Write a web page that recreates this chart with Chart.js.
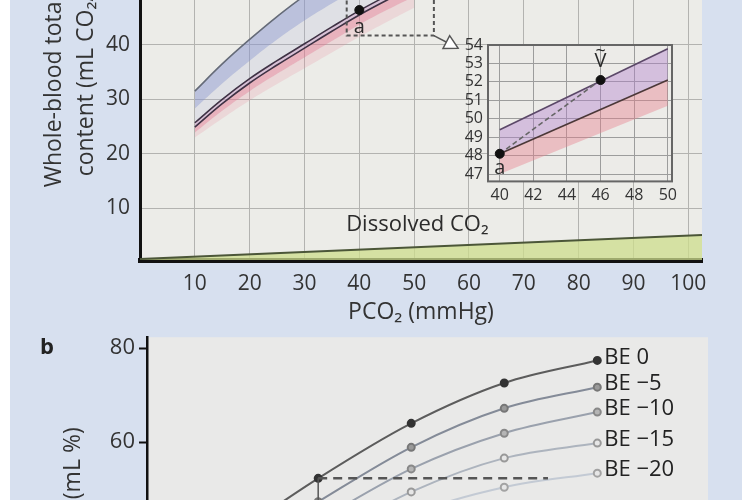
<!DOCTYPE html>
<html>
<head>
<meta charset="utf-8">
<script src="https://cdn.jsdelivr.net/npm/chart.js@4.4.1/dist/chart.umd.min.js"></script>
<style>
  html, body { margin: 0; padding: 0; width: 750px; height: 500px; overflow: hidden; background: #fff; }
  #page { position: absolute; left: 10px; top: 0; width: 732px; height: 500px; background: #d7e0ef; }
  .box { position: absolute; }
  #mainBox { left: 0; top: -146px; width: 750px; height: 476px; }
  #insetBox { left: 440px; top: 30px; width: 250px; height: 180px; }
  #beBox { left: 0; top: 320px; width: 750px; height: 427px; }
  #panelB { position: absolute; left: 40px; top: 330px; font: bold 22px "Open Sans", sans-serif; color: #222; }
</style>
</head>
<body>
<div id="page"></div>
<div class="box" id="mainBox"><canvas id="mainChart"></canvas></div>
<div class="box" id="insetBox"><canvas id="insetChart"></canvas></div>
<div class="box" id="beBox"><canvas id="beChart"></canvas></div>
<div id="panelB">b</div>
<script>
// ---- panel a: whole-blood CO2 dissociation curves ----
const pco2 = [10, 15, 20, 25, 30, 35, 40, 45, 50];
const upperCurve = [31.5, 36.5, 41.0, 45.2, 49.0, 52.2, 55.0, 57.5, 59.7];
const blueEdge = [28.3, 32.9, 37.1, 41.0, 44.5, 47.6, 50.5, 53.1, 55.5];
const lowerTop = [25.7, 30.0, 33.8, 37.1, 40.2, 43.3, 46.3, 49.0, 51.5];
const lowerBottom = [24.9, 29.2, 33.0, 36.3, 39.4, 42.5, 45.5, 48.2, 50.7];
const pinkEdge = [23.9, 27.9, 31.5, 34.7, 37.7, 40.7, 43.7, 46.4, 48.9];
const pinkFade = [23.0, 26.5, 29.8, 32.8, 35.7, 38.6, 41.5, 44.2, 46.8];
const dissolvedX = [0, 102.5];
const dissolvedY = [0.7, 5.1];
const pointAX = [40];
const pointAY = [46.4];
const zoomBoxX = [37.7, 37.7, 53.6, 53.6];
const zoomBoxY = [52, 41.7, 41.7, 52];
const mainXTicks = [10, 20, 30, 40, 50, 60, 70, 80, 90, 100];
const mainYTicks = [10, 20, 30, 40, 50, 60, 70];

// ---- inset: a -> v ----
const insetX = [40, 50];
const insetUpper = [49.4, 53.8];
const insetLower = [48.1, 52.1];
const insetPink = [47.0, 50.7];
const avX = [40, 46];
const avY = [48.1, 52.1];
const insetXTicks = [40, 42, 44, 46, 48, 50];
const insetYTicks = [47, 48, 49, 50, 51, 52, 53, 54];

// ---- panel b: base excess curves ----
const bePco2 = [20, 40, 60, 80, 100];
const be0 = [39.0, 52.3, 64.0, 72.6, 77.4];
const beMinus5 = [35.0, 47.3, 58.9, 67.2, 71.7];
const beMinus10 = [31.0, 43.2, 54.3, 61.9, 66.4];
const beMinus15 = [27.0, 38.8, 49.4, 56.6, 59.8];
const beMinus20 = [23.0, 34.6, 44.6, 50.4, 53.4];
const beLabels = ['BE 0', 'BE \u22125', 'BE \u221210', 'BE \u221215', 'BE \u221220'];
const refLineX = [40, 89.4];
const refLineY = [52.3, 52.3];
const dropX = [40, 40];
const dropY = [52.3, 44];
const beYTicks = [20, 40, 60, 80];

Chart.defaults.font.family = '"Open Sans", "Noto Sans", "DejaVu Sans", sans-serif';
Chart.defaults.animation = false;
Chart.defaults.plugins.legend.display = false;
Chart.defaults.plugins.tooltip.enabled = false;

function xy(xs, ys) {
    return xs.map((x, i) => ({ x: x, y: ys[i] }));
}

function plotBg(color) {
    return {
        id: 'plotBg',
        beforeDraw(chart) {
            const a = chart.chartArea;
            chart.ctx.save();
            chart.ctx.fillStyle = color;
            chart.ctx.fillRect(a.left, a.top, a.right - a.left, a.bottom - a.top);
            chart.ctx.restore();
        }
    };
}

// notes on the main chart: dissolved label, "a", arrow to the inset
const mainNotes = {
    id: 'mainNotes',
    afterDatasetsDraw(chart) {
        const ctx = chart.ctx;
        const x = chart.scales.x, y = chart.scales.y;
        ctx.save();
        ctx.fillStyle = '#2b2b2b';
        ctx.font = '22px ' + Chart.defaults.font.family;
        ctx.textBaseline = 'middle';
        ctx.textAlign = 'left';
        ctx.fillText('Dissolved CO\u2082', x.getPixelForValue(37.6), y.getPixelForValue(7.0));

        ctx.font = '20px ' + Chart.defaults.font.family;
        ctx.textAlign = 'center';
        ctx.fillText('a', x.getPixelForValue(pointAX[0]), y.getPixelForValue(pointAY[0]) + 17);

        // open arrow pointing at the inset
        const x0 = x.getPixelForValue(53.6), y0 = y.getPixelForValue(41.7);
        const x1 = x.getPixelForValue(58.0), y1 = y.getPixelForValue(39.4);
        const ang = Math.atan2(y1 - y0, x1 - x0);
        ctx.strokeStyle = '#555';
        ctx.lineWidth = 1.5;
        ctx.beginPath();
        ctx.moveTo(x0, y0);
        ctx.lineTo(x1 - 9 * Math.cos(ang), y1 - 9 * Math.sin(ang));
        ctx.stroke();
        ctx.beginPath();
        ctx.moveTo(x1, y1);
        ctx.lineTo(x1 - 15 * Math.cos(ang - 0.5), y1 - 15 * Math.sin(ang - 0.5));
        ctx.lineTo(x1 - 15 * Math.cos(ang + 0.5), y1 - 15 * Math.sin(ang + 0.5));
        ctx.closePath();
        ctx.fillStyle = '#fff';
        ctx.fill();
        ctx.stroke();
        ctx.restore();
    }
};

new Chart(document.getElementById('mainChart'), {
    type: 'line',
    data: {
        datasets: [
            { data: xy(pointAX, pointAY), showLine: false, pointRadius: 4.5, pointBackgroundColor: '#111', pointBorderColor: '#111', order: 0 },
            { data: xy(zoomBoxX, zoomBoxY), borderColor: '#555', borderWidth: 2, borderDash: [4, 3], pointRadius: 0, fill: false, order: 1 },
            { data: xy(pco2, upperCurve), borderColor: '#656b78', borderWidth: 1.6, pointRadius: 0, tension: 0.4, fill: '+1', backgroundColor: 'rgba(138,150,208,0.5)', order: 6 },
            { data: xy(pco2, blueEdge), borderWidth: 0, borderColor: 'rgba(0,0,0,0)', pointRadius: 0, tension: 0.4, fill: '+1', backgroundColor: 'rgba(165,172,215,0.18)', order: 7 },
            { data: xy(pco2, lowerTop), borderColor: '#3f3245', borderWidth: 1.6, pointRadius: 0, tension: 0.4, fill: '+1', backgroundColor: 'rgba(195,150,195,0.5)', order: 5 },
            { data: xy(pco2, lowerBottom), borderColor: '#3f3245', borderWidth: 1.6, pointRadius: 0, tension: 0.4, fill: '+1', backgroundColor: 'rgba(228,120,145,0.5)', order: 4 },
            { data: xy(pco2, pinkEdge), borderWidth: 0, borderColor: 'rgba(0,0,0,0)', pointRadius: 0, tension: 0.4, fill: '+1', backgroundColor: 'rgba(232,140,160,0.22)', order: 8 },
            { data: xy(pco2, pinkFade), borderWidth: 0, borderColor: 'rgba(0,0,0,0)', pointRadius: 0, tension: 0.4, fill: false, order: 9 },
            { data: xy(dissolvedX, dissolvedY), borderColor: '#4b5638', borderWidth: 2, pointRadius: 0, fill: 'start', backgroundColor: 'rgba(205,222,140,0.75)', order: 10 }
        ]
    },
    options: {
        responsive: true,
        maintainAspectRatio: false,
        layout: { padding: { left: 0, top: 19, right: 48, bottom: 0 } },
        scales: {
            x: {
                type: 'linear', min: 0, max: 102.5,
                afterBuildTicks: s => { s.ticks = mainXTicks.map(v => ({ value: v })); },
                afterFit: s => { s.height = 70; },
                grid: { color: '#b3b3b0', lineWidth: 1, drawTicks: false },
                border: { color: '#111', width: 5 },
                ticks: { color: '#333', font: { size: 21 }, padding: 11, maxRotation: 0, autoSkip: false },
                title: { display: true, text: 'PCO\u2082 (mmHg)', color: '#333', font: { size: 23 }, padding: { top: 0, bottom: 4 } }
            },
            y: {
                type: 'linear', min: 0.5, max: 70.9,
                afterBuildTicks: s => { s.ticks = mainYTicks.map(v => ({ value: v })); },
                afterFit: s => { s.width = 140; },
                grid: { color: '#b3b3b0', lineWidth: 1, drawTicks: false },
                border: { color: '#111', width: 3 },
                ticks: { color: '#333', font: { size: 21 }, padding: 10, autoSkip: false },
                title: { display: true, text: ['Whole-blood total CO\u2082', 'content (mL CO\u2082/dL)'], color: '#333', font: { size: 23, lineHeight: 1.4 }, padding: { top: 38, bottom: 0 } }
            }
        }
    },
    plugins: [plotBg('#ecece8'), mainNotes]
});

// inset chart
const insetNotes = {
    id: 'insetNotes',
    afterDatasetsDraw(chart) {
        const ctx = chart.ctx;
        const x = chart.scales.x, y = chart.scales.y;
        const a = chart.chartArea;
        const vx = x.getPixelForValue(avX[1]), vy = y.getPixelForValue(avY[1]);
        ctx.save();
        ctx.fillStyle = '#2b2b2b';
        ctx.font = '20px ' + Chart.defaults.font.family;
        ctx.textAlign = 'center';
        ctx.textBaseline = 'middle';
        ctx.fillText('a', x.getPixelForValue(avX[0]), y.getPixelForValue(avY[0]) + 15);
        ctx.fillText('V', vx, vy - 19);
        ctx.font = '18px ' + Chart.defaults.font.family;
        ctx.fillText('~', vx, vy - 28);
        ctx.strokeStyle = '#666';
        ctx.lineWidth = 2;
        ctx.strokeRect(a.left, a.top, a.right - a.left, a.bottom - a.top);
        ctx.restore();
    }
};

new Chart(document.getElementById('insetChart'), {
    type: 'line',
    data: {
        datasets: [
            { data: xy(avX, avY), showLine: false, pointRadius: 4.5, pointBackgroundColor: '#111', pointBorderColor: '#111', order: 0 },
            { data: xy(avX, avY), borderColor: '#666', borderWidth: 1.6, borderDash: [5, 3], pointRadius: 0, fill: false, order: 1 },
            { data: xy(insetX, insetUpper), borderColor: '#5b4868', borderWidth: 1.6, pointRadius: 0, fill: '+1', backgroundColor: 'rgba(178,130,205,0.42)', order: 3 },
            { data: xy(insetX, insetLower), borderColor: '#4b3838', borderWidth: 1.6, pointRadius: 0, fill: '+1', backgroundColor: 'rgba(230,128,140,0.42)', order: 2 },
            { data: xy(insetX, insetPink), borderWidth: 0, borderColor: 'rgba(0,0,0,0)', pointRadius: 0, fill: false, order: 4 }
        ]
    },
    options: {
        responsive: true,
        maintainAspectRatio: false,
        layout: { padding: { left: 0, top: 15, right: 18, bottom: 0 } },
        scales: {
            x: {
                type: 'linear', min: 39.3, max: 50.25,
                afterBuildTicks: s => { s.ticks = insetXTicks.map(v => ({ value: v })); },
                afterFit: s => { s.height = 28.6; },
                grid: { color: '#9c9c9c', lineWidth: 1, drawTicks: false },
                border: { display: false },
                ticks: { color: '#333', font: { size: 16 }, padding: 4, maxRotation: 0, autoSkip: false }
            },
            y: {
                type: 'linear', min: 46.6, max: 54,
                afterBuildTicks: s => { s.ticks = insetYTicks.map(v => ({ value: v })); },
                afterFit: s => { s.width = 48; },
                grid: { color: '#9c9c9c', lineWidth: 1, drawTicks: false },
                border: { display: false },
                ticks: { color: '#333', font: { size: 16 }, padding: 5, autoSkip: false }
            }
        }
    },
    plugins: [plotBg('#ecebe8'), insetNotes]
});

// panel b
const beColors = ['#5c5c5c', '#848b98', '#9aa1ad', '#adb4be', '#c3cad4'];
const bePointFill = ['#333', '#9a9a9a', '#b5b5b5', '#e6e6e6', '#e6e6e6'];
const bePointRing = ['#333', '#777', '#888', '#999', '#a3a3a3'];
const beSeries = [be0, beMinus5, beMinus10, beMinus15, beMinus20];

const beNotes = {
    id: 'beNotes',
    afterDatasetsDraw(chart) {
        const ctx = chart.ctx;
        ctx.save();
        ctx.fillStyle = '#222';
        ctx.font = '22px ' + Chart.defaults.font.family;
        ctx.textAlign = 'left';
        ctx.textBaseline = 'middle';
        beLabels.forEach((label, i) => {
            const pts = chart.getDatasetMeta(i).data;
            const last = pts[pts.length - 1];
            ctx.fillText(label, last.x + 7, last.y - 3);
        });
        ctx.restore();
    }
};

const beDatasets = beSeries.map((vals, i) => ({
    data: xy(bePco2, vals),
    borderColor: beColors[i],
    borderWidth: 2,
    cubicInterpolationMode: 'monotone',
    pointRadius: 3.5,
    pointBorderWidth: 2,
    pointBackgroundColor: bePointFill[i],
    pointBorderColor: bePointRing[i],
    fill: false,
    order: i + 2
}));
beDatasets.push({ data: xy(refLineX, refLineY), borderColor: '#555', borderWidth: 2.5, borderDash: [9, 6], pointRadius: 0, fill: false, order: 1 });
beDatasets.push({ data: xy(dropX, dropY), borderColor: '#555', borderWidth: 1.5, pointRadius: 0, fill: false, order: 1 });

new Chart(document.getElementById('beChart'), {
    type: 'line',
    data: { datasets: beDatasets },
    options: {
        responsive: true,
        maintainAspectRatio: false,
        layout: { padding: { left: 0, top: 17, right: 42, bottom: 23 } },
        scales: {
            x: { type: 'linear', min: 3.2, max: 123.8, display: false },
            y: {
                type: 'linear', min: 0, max: 82.34,
                afterBuildTicks: s => { s.ticks = beYTicks.map(v => ({ value: v })); },
                afterFit: s => { s.width = 147; },
                grid: { drawOnChartArea: false, drawTicks: true, tickLength: 8, tickColor: '#111', tickWidth: 2 },
                border: { color: '#111', width: 2.5 },
                ticks: { color: '#333', font: { size: 22 }, padding: 4, autoSkip: false },
                title: { display: true, text: 'CO\u2082 content (mL %)', color: '#333', font: { size: 23 }, padding: { top: 60, bottom: 0 } }
            }
        }
    },
    plugins: [plotBg('#e9e9e8'), beNotes]
});
</script>
</body>
</html>
